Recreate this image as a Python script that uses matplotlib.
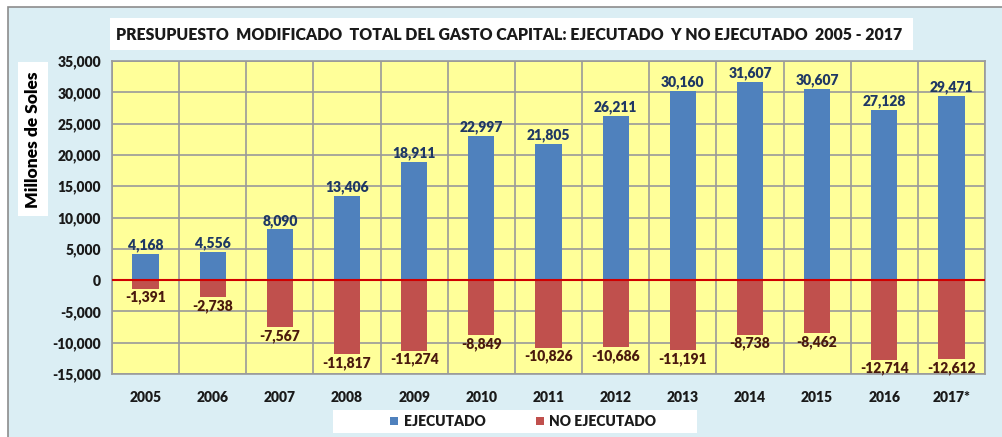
import numpy as np
import matplotlib.pyplot as plt
from matplotlib.patches import Rectangle

years = ['2005', '2006', '2007', '2008', '2009', '2010', '2011',
         '2012', '2013', '2014', '2015', '2016', '2017*']
ejecutado = [4168, 4556, 8090, 13406, 18911, 22997, 21805,
             26211, 30160, 31607, 30607, 27128, 29471]
no_ejecutado = [-1391, -2738, -7567, -11817, -11274, -8849, -10826,
                -10686, -11191, -8738, -8462, -12714, -12612]
yticks = [-15000, -10000, -5000, 0, 5000, 10000, 15000,
          20000, 25000, 30000, 35000]

W, H = 1003, 437
plt.rcParams['font.family'] = ['Lato', 'DejaVu Sans']

fig = plt.figure(figsize=(W / 100, H / 100), dpi=100)
fig.patch.set_facecolor('white')

def box(x0, y0, x1, y1, fc, ec='none', lw=0):
    # pixel coords, y from top
    r = Rectangle((x0 / W, 1 - y1 / H), (x1 - x0) / W, (y1 - y0) / H,
                  transform=fig.transFigure, facecolor=fc, edgecolor=ec,
                  linewidth=lw, zorder=-1)
    fig.patches.append(r)

# outer chart area
box(8, 7, 1010, 445, '#DBEEF4', ec='#8C8C8C', lw=1.2)
# title box
box(110, 18, 913, 50, 'white')
fig.text(116 / W, 1 - 35 / H,
         'PRESUPUESTO  MODIFICADO  TOTAL DEL GASTO CAPITAL: EJECUTADO  Y NO EJECUTADO  2005 - 2017',
         fontsize=11.4, fontweight='heavy', color='#1a1a1a', va='center', ha='left')
# y label box
box(18, 62, 48, 216, 'white')
fig.text(33 / W, 1 - 140 / H, 'Millones de Soles', rotation=90,
         fontsize=12.5, fontweight='heavy', color='black', ha='center', va='center')

ax = fig.add_axes([112 / W, 1 - 374 / H, 873 / W, 313 / H])
ax.set_zorder(2)
ax.set_facecolor('#FFFF99')
x = np.arange(len(years))
ax.bar(x, ejecutado, width=0.39, color='#4F81BD', zorder=3)
ax.bar(x, no_ejecutado, width=0.39, color='#C0504D', zorder=3)
ax.axhline(0, color='#D00000', lw=1.5, zorder=4)

for xi, v in zip(x, ejecutado):
    ax.text(xi, v + 300, f'{v:,}', ha='center', va='bottom', fontsize=10,
            fontweight='heavy', color='#1F3864', zorder=5)
for xi, v in zip(x, no_ejecutado):
    ax.text(xi, v - 300, f'{v:,}', ha='center', va='top', fontsize=10,
            fontweight='heavy', color='#4A1A0E', zorder=5)

ax.set_xlim(-0.5, len(years) - 0.5)
ax.set_ylim(-15000, 35000)
ax.set_yticks(yticks)
ax.set_yticklabels([f'{t:,}' for t in yticks])
ax.set_xticks(x)
ax.set_xticklabels(years)
ax.set_xticks(np.arange(-0.5, len(years)), minor=True)
ax.grid(True, which='minor', axis='x', color='#9A9A9A', lw=1.2, zorder=1)
ax.grid(True, which='major', axis='y', color='#9A9A9A', lw=1.2, zorder=1)
ax.set_axisbelow(True)
ax.tick_params(which='both', length=0)
ax.tick_params(axis='y', pad=8, labelsize=10)
ax.tick_params(axis='x', pad=12, labelsize=10)
for lbl in ax.get_xticklabels() + ax.get_yticklabels():
    lbl.set_fontweight('heavy')
    lbl.set_color('#1a1a1a')
for s in ax.spines.values():
    s.set_color('#9A9A9A')
    s.set_linewidth(1.2)

# legend
box(333, 410, 697, 433, 'white')
box(390, 417, 398, 425, '#4F81BD')
fig.text(404 / W, 1 - 421.5 / H, 'EJECUTADO', fontsize=10, fontweight='heavy',
         color='#1a1a1a', va='center', ha='left')
box(536, 417, 544, 425, '#C0504D')
fig.text(549 / W, 1 - 421.5 / H, 'NO EJECUTADO', fontsize=10, fontweight='heavy',
         color='#1a1a1a', va='center', ha='left')

fig.savefig('out.png', dpi=100, facecolor=fig.get_facecolor())
